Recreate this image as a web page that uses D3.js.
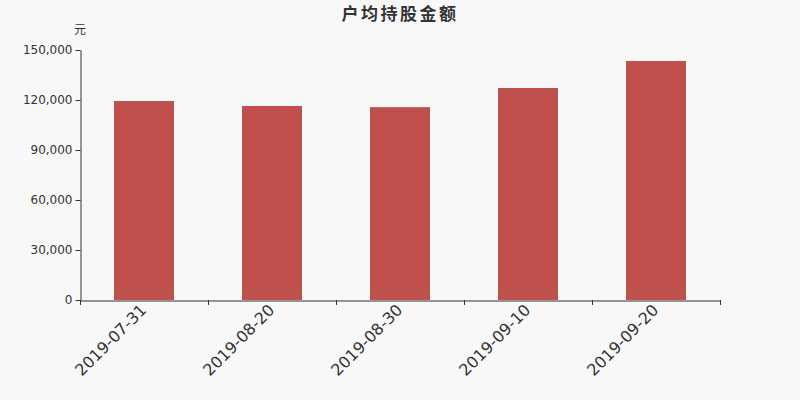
<!DOCTYPE html>
<html lang="zh">
<head>
    <meta charset="UTF-8">
    <title>户均持股金额</title>
    <script src="https://d3js.org/d3.v7.min.js"></script>
    <style>
        body {
            margin: 0;
            background-color: #f8f8f8;
            font-family: "DejaVu Sans", "Noto Sans CJK SC", sans-serif;
        }
        .axis text {
            fill: #333;
            font-size: 12px;
            font-family: "DejaVu Sans", sans-serif;
        }
        .axis path, .axis line {
            stroke: #333;
        }
        .x-axis text {
            font-size: 16px;
        }
    </style>
</head>
<body>
<div id="chart"></div>
<script>

const categories = ["2019-07-31", "2019-08-20", "2019-08-30", "2019-09-10", "2019-09-20"];
const values = [119400, 116400, 115700, 127200, 143400];
const yTicks = [0, 30000, 60000, 90000, 120000, 150000];

const margin = { top: 50, right: 80, bottom: 100, left: 80 };
const width = 800 - margin.left - margin.right;
const height = 400 - margin.top - margin.bottom;

const root = d3.select("#chart")
    .append("svg")
    .attr("width", 800)
    .attr("height", 400)
    .style("display", "block");

root.append("rect")
    .attr("width", 800)
    .attr("height", 400)
    .attr("fill", "#f8f8f8");

root.append("text")
    .attr("x", 400)
    .attr("y", 20)
    .attr("text-anchor", "middle")
    .style("font-family", "'Noto Sans CJK SC', sans-serif")
    .style("font-size", "17px")
    .style("font-weight", "bold")
    .style("letter-spacing", "2.5px")
    .style("fill", "#333")
    .text("户均持股金额");

const svg = root.append("g")
    .attr("transform", `translate(${margin.left},${margin.top})`);

const xScale = d3.scaleBand()
    .domain(categories)
    .range([0, width])
    .paddingInner(0)
    .paddingOuter(0);

const yScale = d3.scaleLinear()
    .domain([0, 150000])
    .range([height, 0]);

svg.selectAll(".bar")
    .data(categories)
    .enter()
    .append("rect")
    .attr("class", "bar")
    .attr("x", d => xScale(d) + (xScale.bandwidth() - 60) / 2)
    .attr("width", 60)
    .attr("y", (d, i) => yScale(values[i]))
    .attr("height", (d, i) => height - yScale(values[i]))
    .attr("fill", "#c0504d");

svg.append("g")
    .attr("class", "axis y-axis")
    .attr("transform", "translate(0.5,0)")
    .call(d3.axisLeft(yScale)
        .tickValues(yTicks)
        .tickSize(5)
        .tickSizeOuter(0)
        .tickFormat(d3.format(",")));

svg.append("g")
    .attr("class", "axis x-axis")
    .attr("transform", `translate(0,${height + 0.5})`)
    .call(d3.axisBottom(xScale).tickSize(0).tickSizeOuter(0))
    .call(g => g.selectAll(".tick text")
        .attr("text-anchor", "end")
        .attr("dx", "-5px")
        .attr("dy", "10px")
        .attr("y", 0)
        .attr("transform", "rotate(-45)"));

// boundary ticks between categories
svg.append("g")
    .attr("class", "axis")
    .selectAll("line")
    .data(d3.range(categories.length + 1))
    .enter()
    .append("line")
    .attr("x1", i => Math.round(i * xScale.step()) + 0.5)
    .attr("x2", i => Math.round(i * xScale.step()) + 0.5)
    .attr("y1", height)
    .attr("y2", height + 5);

svg.append("text")
    .attr("x", 0)
    .attr("y", -16)
    .attr("text-anchor", "middle")
    .style("font-family", "'Noto Sans CJK SC', sans-serif")
    .style("font-size", "12px")
    .style("fill", "#333")
    .text("元");
</script>
</body>
</html>
